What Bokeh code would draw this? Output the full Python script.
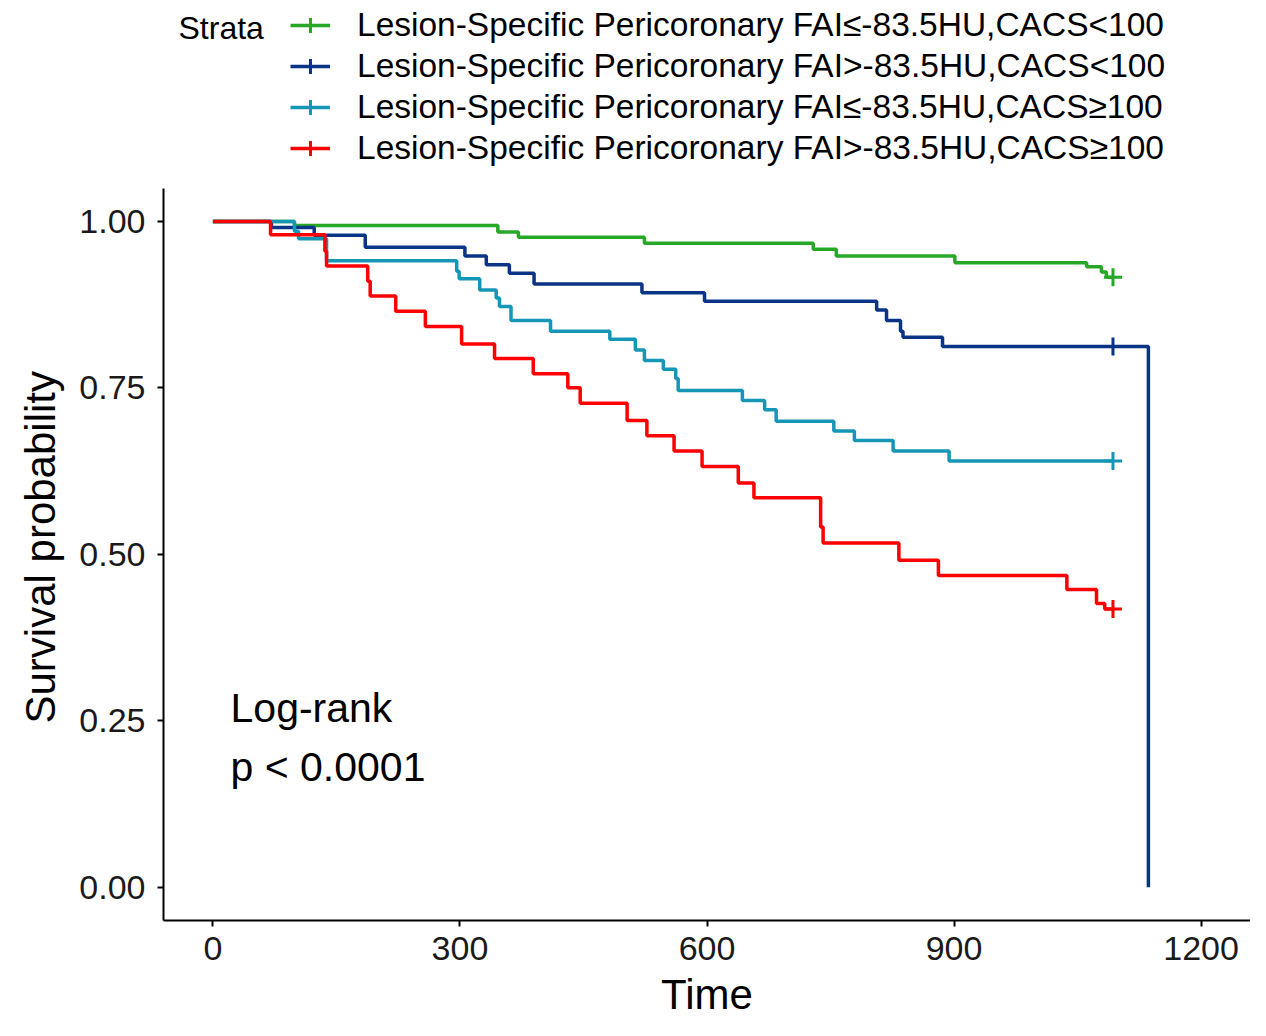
from bokeh.plotting import figure
from bokeh.models import Legend, LegendItem, Label, FixedTicker, Range1d
from bokeh.embed import file_html
from bokeh.resources import INLINE

FONT = "Liberation Sans"

# ---------------- data ----------------
strata = [
    "Lesion-Specific Pericoronary FAI≤-83.5HU,CACS<100",
    "Lesion-Specific Pericoronary FAI>-83.5HU,CACS<100",
    "Lesion-Specific Pericoronary FAI≤-83.5HU,CACS≥100",
    "Lesion-Specific Pericoronary FAI>-83.5HU,CACS≥100",
]
colors = ["#26A826", "#0B3487", "#1696B6", "#FF0000"]

g1_time = [0, 99, 346, 371, 524, 729, 757, 901, 1061, 1079, 1085, 1093]
g1_surv = [1.0, 0.994, 0.984, 0.976, 0.967, 0.958, 0.948, 0.938, 0.932, 0.924, 0.916, 0.916]

g2_time = [0, 71, 123, 185, 306, 332, 360, 390, 521, 597, 806, 818, 835, 838, 886, 1136]
g2_surv = [1.0, 0.991, 0.979, 0.961, 0.948, 0.935, 0.922, 0.906, 0.893, 0.880, 0.867, 0.851,
           0.835, 0.826, 0.812, 0.0]

g3_time = [0, 99, 104, 138, 296, 299, 324, 344, 348, 362, 410, 482, 513, 524, 547, 562, 565,
           643, 670, 684, 754, 779, 826, 894, 1093]
g3_surv = [1.0, 0.985, 0.974, 0.941, 0.925, 0.914, 0.897, 0.885, 0.872, 0.851, 0.835, 0.823,
           0.807, 0.791, 0.778, 0.764, 0.746, 0.731, 0.717, 0.700, 0.685, 0.671, 0.655, 0.640, 0.640]

g4_time = [0, 70, 136, 138, 188, 191, 222, 258, 302, 342, 389, 431, 446, 503, 527, 560, 594,
           638, 657, 738, 741, 833, 881, 1037, 1073, 1083, 1093]
g4_surv = [1.0, 0.980, 0.955, 0.933, 0.910, 0.888, 0.865, 0.842, 0.816, 0.794, 0.771, 0.750,
           0.727, 0.701, 0.678, 0.655, 0.632, 0.607, 0.585, 0.541, 0.517, 0.491, 0.468, 0.447,
           0.426, 0.418, 0.418]

censor_time = [1093, 1093, 1093, 1093]
censor_surv = [0.916, 0.812, 0.640, 0.418]

x_ticks = [0, 300, 600, 900, 1200]
y_ticks = [0.0, 0.25, 0.50, 0.75, 1.0]
y_tick_labels = ["0.00", "0.25", "0.50", "0.75", "1.00"]

legend_title = "Strata"
pval_lines = ["Log-rank", "p < 0.0001"]

# ---------------- layout constants (pixels) ----------------
W, H = 1250, 1020
BORDER_LEFT, BORDER_BOTTOM = 163, 98
AXIS_TOP_PX = 188                       # where y = 1.05 sits
frame_h = H - BORDER_BOTTOM
px_per_unit = (frame_h - AXIS_TOP_PX) / 1.10
y_top = 1.05 + AXIS_TOP_PX / px_per_unit

p = figure(width=W, height=H, output_backend="svg", toolbar_location=None,
           x_range=Range1d(-60, 1260), y_range=Range1d(-0.05, y_top),
           title="Survival probability", title_location="left",
           min_border_left=BORDER_LEFT, min_border_right=0, min_border_top=0,
           min_border_bottom=BORDER_BOTTOM)
p.outline_line_color = None
p.grid.visible = False
p.background_fill_color = "white"

# y-axis title, placed along the 0..1 part of the axis
p.title.align = "left"
p.title.vertical_align = "top"
p.title.offset = 197
p.title.text_font = FONT
p.title.text_font_size = "42px"
p.title.text_font_style = "normal"
p.title.text_color = "black"
p.title.standoff = 22

times = [g1_time, g2_time, g3_time, g4_time]
survs = [g1_surv, g2_surv, g3_surv, g4_surv]
items = []
for i in range(4):
    r_line = p.step(times[i], survs[i], mode="after", line_width=3.5, line_color=colors[i])
    r_cens = p.scatter([censor_time[i]], [censor_surv[i]], marker="cross", size=18,
                       line_width=3, line_color=colors[i])
    items.append(LegendItem(label=strata[i], renderers=[r_line, r_cens]))

# axes
for ax in (p.xaxis[0], p.yaxis[0]):
    ax.axis_line_width = 2
    ax.axis_line_color = "black"
    ax.major_tick_line_width = 2
    ax.major_tick_line_color = "black"
    ax.major_tick_out = 6
    ax.major_tick_in = 0
    ax.minor_tick_line_color = None
    ax.major_label_text_font = FONT
    ax.major_label_text_font_size = "34px"
    ax.major_label_text_color = "#1a1a1a"
    ax.axis_label_text_font = FONT
    ax.axis_label_text_font_size = "42px"
    ax.axis_label_text_font_style = "normal"
    ax.axis_label_text_color = "black"

p.yaxis.bounds = (-0.05, 1.05)
p.xaxis.ticker = FixedTicker(ticks=x_ticks)
p.yaxis.ticker = FixedTicker(ticks=y_ticks)
p.yaxis.major_label_overrides = {t: l for t, l in zip(y_ticks, y_tick_labels)}
p.xaxis.axis_label = "Time"
p.xaxis.major_label_standoff = 10
p.xaxis.axis_label_standoff = 8
p.yaxis.major_label_standoff = 12

# legend (in the free band above the y axis)
legend_h = 4 * 38 + 3 * 3
legend = Legend(items=items, location=(290 - BORDER_LEFT, frame_h - 8 - legend_h),
                orientation="vertical",
                glyph_width=40, glyph_height=38, label_height=38, spacing=3,
                label_standoff=27, padding=0, margin=0,
                label_text_font=FONT, label_text_font_size="33.5px",
                label_text_color="black",
                border_line_color=None, background_fill_alpha=0)
p.add_layout(legend)

strata_y = 1.05 + (AXIS_TOP_PX - 28) / px_per_unit
p.add_layout(Label(x=-41.8, y=strata_y, text=legend_title, text_font=FONT,
                   text_font_size="32px", text_baseline="middle", text_align="left",
                   text_color="black"))

p.add_layout(Label(x=21.4, y=0.269, text=pval_lines[0], text_font=FONT,
                   text_font_size="41px", text_baseline="middle", text_align="left",
                   text_color="black"))
p.add_layout(Label(x=21.4, y=0.180, text=pval_lines[1], text_font=FONT,
                   text_font_size="41px", text_baseline="middle", text_align="left",
                   text_color="black"))

open("out.html", "w").write(file_html(p, INLINE))
